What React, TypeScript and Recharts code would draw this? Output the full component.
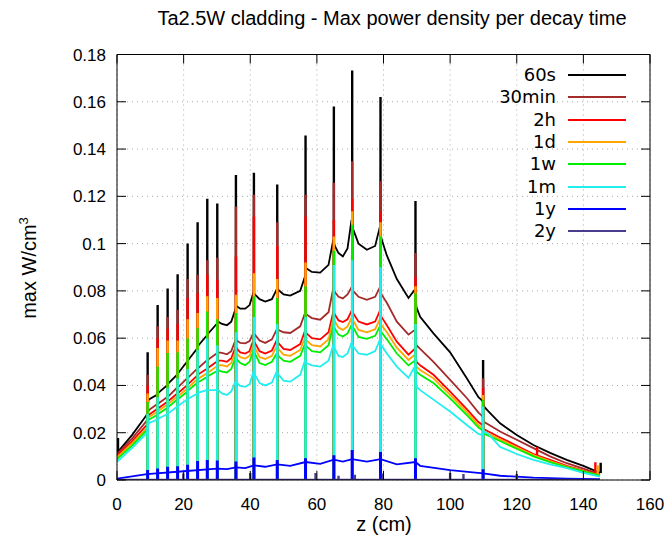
import { LineChart, Line, XAxis, YAxis, CartesianGrid } from 'recharts';

// z positions (cm) where the smooth part of each curve is sampled
const Z_BASE = [
  0, 4.5, 8.9, 9.5, 12.0, 12.5, 15.0, 15.5, 18.0, 18.5, 21.0, 21.5, 24.0, 24.5, 26.9, 27.4, 29.9,
  30.4, 31.5, 33, 34.3, 35.5, 36, 37, 38.5, 39.8, 40.9, 41.4, 42.8, 44.5, 46.5, 47.9,
  48.4, 50, 52, 55, 56.4, 56.9, 58.5, 61, 63.5, 64.9, 65.4, 66.5, 67.8, 69.2, 70.4,
  70.9, 72.5, 75, 77.5, 78.9, 79.4, 81, 84, 87.5, 89.4, 89.9, 91, 95, 100, 105, 108.5, 109.7,
  110.2, 111.5, 115, 120, 125, 130, 135, 140, 145,
];

const BASE_60S = [
  0.0115, 0.019, 0.0275, 0.034, 0.036, 0.037, 0.04, 0.041, 0.0445, 0.0455, 0.05, 0.051, 0.0555, 0.057, 0.061, 0.062, 0.066,
  0.067, 0.066, 0.0655, 0.067, 0.072, 0.0735, 0.0725, 0.0725, 0.074, 0.079, 0.0785, 0.0765, 0.0755, 0.0765, 0.0805,
  0.0805, 0.0785, 0.078, 0.08, 0.086, 0.0895, 0.088, 0.0877, 0.091, 0.1015, 0.099, 0.096, 0.0946, 0.098, 0.11,
  0.106, 0.1, 0.0974, 0.099, 0.107, 0.102, 0.095, 0.085, 0.077, 0.0805, 0.073, 0.069, 0.062, 0.054, 0.043, 0.035, 0.0335,
  0.031, 0.029, 0.024, 0.019, 0.0148, 0.0115, 0.0085, 0.006, 0.003,
];

const BASE_30MIN = [
  0.011, 0.0175, 0.025, 0.0295, 0.032, 0.0325, 0.035, 0.0355, 0.039, 0.0395, 0.043, 0.0435, 0.047, 0.0475, 0.0505, 0.051, 0.0535,
  0.054, 0.0538, 0.0532, 0.0545, 0.059, 0.059, 0.058, 0.0578, 0.0588, 0.062, 0.0615, 0.059, 0.058, 0.0595, 0.0635,
  0.0635, 0.0625, 0.0622, 0.065, 0.0705, 0.07, 0.0685, 0.0678, 0.071, 0.081, 0.0795, 0.0775, 0.0768, 0.0785, 0.0815,
  0.08, 0.0775, 0.0762, 0.0775, 0.0815, 0.0785, 0.075, 0.067, 0.0615, 0.0635, 0.057, 0.0555, 0.05, 0.0424, 0.0347, 0.0285, 0.027,
  0.0245, 0.0235, 0.0205, 0.017, 0.0135, 0.01, 0.0071, 0.0048, 0.0025,
];

const BASE_2H = [
  0.0103, 0.0163, 0.0232, 0.0275, 0.03, 0.0305, 0.033, 0.0335, 0.0365, 0.037, 0.04, 0.0408, 0.044, 0.0448, 0.047, 0.0475, 0.05,
  0.0505, 0.0505, 0.05, 0.0515, 0.056, 0.0555, 0.054, 0.0535, 0.0545, 0.059, 0.058, 0.0545, 0.0535, 0.0548, 0.059,
  0.058, 0.0555, 0.055, 0.0575, 0.063, 0.062, 0.06, 0.0595, 0.0625, 0.071, 0.07, 0.0675, 0.0668, 0.068, 0.0715,
  0.0705, 0.067, 0.0658, 0.067, 0.0715, 0.069, 0.0655, 0.0585, 0.053, 0.0555, 0.05, 0.0485, 0.0445, 0.0374, 0.03, 0.0245, 0.0233,
  0.0215, 0.0205, 0.018, 0.0145, 0.011, 0.0085, 0.006, 0.004, 0.0022,
];

const BASE_1D = [
  0.0096, 0.0155, 0.0218, 0.0265, 0.0288, 0.0293, 0.0318, 0.0323, 0.0352, 0.0357, 0.0385, 0.0393, 0.0425, 0.043, 0.045, 0.0455, 0.048,
  0.0485, 0.0486, 0.048, 0.0495, 0.054, 0.0535, 0.052, 0.0514, 0.0525, 0.057, 0.056, 0.052, 0.0512, 0.0525, 0.0565,
  0.0555, 0.053, 0.0525, 0.055, 0.06, 0.059, 0.057, 0.0565, 0.0595, 0.068, 0.067, 0.0645, 0.0635, 0.065, 0.0685,
  0.0675, 0.0635, 0.0625, 0.0638, 0.068, 0.0655, 0.0625, 0.056, 0.0508, 0.053, 0.048, 0.0465, 0.043, 0.036, 0.0288, 0.0232, 0.022,
  0.0205, 0.0195, 0.0172, 0.0138, 0.0105, 0.008, 0.0057, 0.0038, 0.002,
];

const BASE_1W = [
  0.0088, 0.0145, 0.021, 0.0255, 0.0275, 0.028, 0.0305, 0.031, 0.034, 0.0345, 0.0372, 0.038, 0.041, 0.0415, 0.0435, 0.044, 0.046,
  0.0465, 0.0458, 0.0455, 0.047, 0.0515, 0.051, 0.0495, 0.0486, 0.05, 0.0545, 0.0535, 0.0495, 0.0486, 0.05, 0.0535,
  0.0525, 0.0505, 0.05, 0.0525, 0.0575, 0.0565, 0.0545, 0.054, 0.057, 0.065, 0.064, 0.0615, 0.0607, 0.062, 0.0655,
  0.0645, 0.0605, 0.0597, 0.061, 0.065, 0.0625, 0.0595, 0.0535, 0.0485, 0.0505, 0.0458, 0.0445, 0.041, 0.0345, 0.0275, 0.0222, 0.021,
  0.0195, 0.0187, 0.0165, 0.0132, 0.01, 0.0076, 0.0054, 0.0036, 0.0018,
];

const BASE_1M = [
  0.0077, 0.0135, 0.0198, 0.024, 0.0255, 0.026, 0.0278, 0.0283, 0.031, 0.0315, 0.034, 0.0345, 0.0365, 0.037, 0.038, 0.038, 0.038,
  0.038, 0.0366, 0.036, 0.0375, 0.0415, 0.041, 0.0398, 0.0394, 0.0405, 0.0455, 0.0445, 0.041, 0.04, 0.0412, 0.0458,
  0.0448, 0.042, 0.0416, 0.0445, 0.0505, 0.0495, 0.0485, 0.048, 0.0505, 0.057, 0.0555, 0.0525, 0.052, 0.0535, 0.058,
  0.0565, 0.0535, 0.053, 0.0545, 0.0593, 0.057, 0.0535, 0.048, 0.0432, 0.048, 0.0395, 0.038, 0.034, 0.029, 0.0233, 0.0195, 0.019,
  0.0205, 0.0195, 0.014, 0.011, 0.0085, 0.0066, 0.005, 0.003, 0.0014,
];

// grid / spacer positions (cm) where every curve peaks
const Z_SPIKE = [9.2, 12.2, 15.2, 18.2, 21.2, 24.2, 27.1, 30.1, 35.7, 41.1, 48.1, 56.6, 65.1, 70.6, 79.1, 89.6, 109.9];

const TOP_60S = [0.054, 0.074, 0.081, 0.087, 0.1, 0.109, 0.119, 0.117, 0.129, 0.13, 0.125, 0.1457, 0.158, 0.1732, 0.162, 0.118, 0.0508];
const TOP_30MIN = [0.0445, 0.065, 0.069, 0.072, 0.085, 0.0868, 0.093, 0.094, 0.1157, 0.1207, 0.109, 0.1207, 0.1257, 0.1348, 0.1264, 0.096, 0.043];
const TOP_2H = [0.04, 0.06, 0.064, 0.066, 0.077, 0.079, 0.0868, 0.0847, 0.0946, 0.1115, 0.099, 0.1115, 0.11, 0.119, 0.1137, 0.086, 0.039];
const TOP_1D = [0.0366, 0.0558, 0.059, 0.059, 0.068, 0.0706, 0.0777, 0.077, 0.0784, 0.0875, 0.085, 0.092, 0.103, 0.1137, 0.109, 0.082, 0.036];
const TOP_1W = [0.033, 0.048, 0.0537, 0.054, 0.06, 0.0643, 0.0713, 0.068, 0.0706, 0.0776, 0.077, 0.082, 0.097, 0.108, 0.103, 0.079, 0.034];
const TOP_1M = [0.028, 0.035, 0.039, 0.043, 0.047, 0.055, 0.06, 0.057, 0.0625, 0.069, 0.066, 0.069, 0.091, 0.093, 0.09, 0.066, 0.031];
const TOP_1Y = [0.0042, 0.0049, 0.0056, 0.0058, 0.0065, 0.008, 0.0085, 0.0082, 0.0078, 0.0095, 0.0085, 0.0092, 0.0105, 0.0127, 0.0118, 0.0092, 0.0045];

// 1y curve sampled on its own, coarser grid
const Z_1Y = [0, 9, 20, 30, 33, 35.7, 38.5, 41.1, 44.5, 48.1, 52, 56.6, 61, 65.1, 67.8, 70.6, 75, 79.1, 84, 89.6, 91, 100, 109.9, 115, 125, 135, 145];
const BASE_1Y = [
  0.0006, 0.0025, 0.0037, 0.0048, 0.0046, 0.0053, 0.005, 0.0062, 0.0056, 0.0066, 0.006, 0.0076, 0.0068, 0.0086,
  0.0078, 0.0088, 0.0078, 0.0088, 0.0066, 0.0076, 0.006, 0.0042, 0.0028, 0.0018, 0.001, 0.0006, 0.0004,
];

// 2y stays near zero with a few small peaks
const Z_2Y = [0, 145];
const BASE_2Y = [0.0002, 0.0001];
const Z_2Y_SPIKE = [19.9, 40.0, 59.6, 66.5, 71.4, 79.8, 100, 104, 120];
const TOP_2Y = [0.0028, 0.003, 0.003, 0.0018, 0.0022, 0.0028, 0.003, 0.0025, 0.0025];

// odd isolated peaks: [z, from, to]
const EXTRA_60S = [[0.3, 0.0115, 0.0178], [145.2, 0.003, 0.0073]];
const EXTRA_2H = [[126.1, 0.0099, 0.014], [143.6, 0.0025, 0.0075]];
const EXTRA_1D = [[144.3, 0.002, 0.0062]];

const X_TICKS = [0, 20, 40, 60, 80, 100, 120, 140, 160];
const Y_TICKS = [0, 0.02, 0.04, 0.06, 0.08, 0.1, 0.12, 0.14, 0.16, 0.18];

type Pt = { z: number; v: number | null };

const toRows = (zs: number[], vs: number[]): Pt[] => zs.map((z, i) => ({ z, v: vs[i] }));

// each peak is a vertical stroke, separated by a gap
const toSpikes = (zs: number[], tops: number[], extra: number[][] = []): Pt[] => [
  ...zs.flatMap((z, i) => [{ z, v: 0 }, { z, v: tops[i] }, { z, v: null }]),
  ...extra.flatMap(([z, lo, hi]) => [{ z, v: lo }, { z, v: hi }, { z, v: null }]),
];

const SERIES = [
  { name: '60s', color: '#000000', base: toRows(Z_BASE, BASE_60S), spikes: toSpikes(Z_SPIKE, TOP_60S, EXTRA_60S) },
  { name: '30min', color: '#a52a2a', base: toRows(Z_BASE, BASE_30MIN), spikes: toSpikes(Z_SPIKE, TOP_30MIN) },
  { name: '2h', color: '#ff0000', base: toRows(Z_BASE, BASE_2H), spikes: toSpikes(Z_SPIKE, TOP_2H, EXTRA_2H) },
  { name: '1d', color: '#ffa500', base: toRows(Z_BASE, BASE_1D), spikes: toSpikes(Z_SPIKE, TOP_1D, EXTRA_1D) },
  { name: '1w', color: '#00ee00', base: toRows(Z_BASE, BASE_1W), spikes: toSpikes(Z_SPIKE, TOP_1W) },
  { name: '1m', color: '#22eeee', base: toRows(Z_BASE, BASE_1M), spikes: toSpikes(Z_SPIKE, TOP_1M) },
  { name: '1y', color: '#0000ff', base: toRows(Z_1Y, BASE_1Y), spikes: toSpikes(Z_SPIKE, TOP_1Y) },
  { name: '2y', color: '#483d8b', base: toRows(Z_2Y, BASE_2Y), spikes: toSpikes(Z_2Y_SPIKE, TOP_2Y) },
];

const FONT = '"Liberation Sans", Arial, sans-serif';
const TICK_LEN = 9;

const fmtY = (v: number) => String(Number(v.toFixed(2)));

// gnuplot style: ticks point into the plot
const BottomTick = (p: any) => (
  <g>
    <line x1={p.x} y1={p.y} x2={p.x} y2={p.y - TICK_LEN} stroke="#000" />
    <text x={p.x} y={p.y + 30} textAnchor="middle" fontSize={17} fontFamily={FONT} fill="#000">
      {p.payload.value}
    </text>
  </g>
);

const TopTick = (p: any) => <line x1={p.x} y1={p.y} x2={p.x} y2={p.y + TICK_LEN} stroke="#000" />;

const LeftTick = (p: any) => (
  <g>
    <line x1={p.x} y1={p.y} x2={p.x + TICK_LEN} y2={p.y} stroke="#000" />
    <text x={p.x - 11} y={p.y + 6} textAnchor="end" fontSize={17} fontFamily={FONT} fill="#000">
      {fmtY(p.payload.value)}
    </text>
  </g>
);

const RightTick = (p: any) => <line x1={p.x} y1={p.y} x2={p.x - TICK_LEN} y2={p.y} stroke="#000" />;

export default function App() {
  return (
    <div style={{ position: 'absolute', left: 0, top: 0, width: 666, height: 550, background: '#fff', fontFamily: FONT }}>
      <div
        style={{
          position: 'absolute',
          left: 392,
          top: 8,
          transform: 'translateX(-50%)',
          whiteSpace: 'nowrap',
          fontSize: 20,
          lineHeight: '20px',
        }}
      >
        Ta2.5W cladding - Max power density per decay time
      </div>

      <LineChart width={666} height={550} margin={{ top: 53.5, right: 15, bottom: 40, left: 57 }}>
        <CartesianGrid xAxisId="b" yAxisId="l" stroke="#a8a8a8" strokeDasharray="1 4" />
        <XAxis
          xAxisId="b"
          dataKey="z"
          type="number"
          domain={[0, 160]}
          ticks={X_TICKS}
          interval={0}
          allowDataOverflow
          height={30}
          tickLine={false}
          tickSize={0}
          tickMargin={0}
          axisLine={{ stroke: '#000' }}
          tick={BottomTick}
        />
        <XAxis
          xAxisId="t"
          orientation="top"
          dataKey="z"
          type="number"
          domain={[0, 160]}
          ticks={X_TICKS}
          interval={0}
          allowDataOverflow
          height={1}
          tickLine={false}
          tickSize={0}
          tickMargin={0}
          axisLine={{ stroke: '#000' }}
          tick={TopTick}
        />
        <YAxis
          yAxisId="l"
          type="number"
          domain={[0, 0.18]}
          ticks={Y_TICKS}
          interval={0}
          allowDataOverflow
          width={60}
          tickLine={false}
          tickSize={0}
          tickMargin={0}
          axisLine={{ stroke: '#000' }}
          tick={LeftTick}
        />
        <YAxis
          yAxisId="r"
          orientation="right"
          type="number"
          domain={[0, 0.18]}
          ticks={Y_TICKS}
          interval={0}
          allowDataOverflow
          width={1}
          tickLine={false}
          tickSize={0}
          tickMargin={0}
          axisLine={{ stroke: '#000' }}
          tick={RightTick}
        />
        {SERIES.flatMap((s) => [
          <Line
            key={`${s.name}-base`}
            xAxisId="b"
            yAxisId="l"
            data={s.base}
            dataKey="v"
            name={s.name}
            type="linear"
            stroke={s.color}
            strokeWidth={1.8}
            dot={false}
            activeDot={false}
            isAnimationActive={false}
          />,
          <Line
            key={`${s.name}-spikes`}
            xAxisId="b"
            yAxisId="l"
            data={s.spikes}
            dataKey="v"
            name={`${s.name} peaks`}
            type="linear"
            stroke={s.color}
            strokeWidth={s.name === '1y' ? 3 : 2.4}
            dot={false}
            activeDot={false}
            legendType="none"
            isAnimationActive={false}
          />,
        ])}
      </LineChart>

      {/* legend, top right inside the frame */}
      <div style={{ position: 'absolute', left: 436, top: 64, fontFamily: '"DejaVu Sans", sans-serif', fontSize: 18 }}>
        {SERIES.map((s) => (
          <div key={s.name} style={{ display: 'flex', alignItems: 'center', height: 22.3 }}>
            <span style={{ width: 120, textAlign: 'right', lineHeight: '22px' }}>{s.name}</span>
            <span style={{ width: 58, height: 2, marginLeft: 12, background: s.color }} />
          </div>
        ))}
      </div>

      <div
        style={{
          position: 'absolute',
          left: 384,
          top: 514,
          transform: 'translateX(-50%)',
          whiteSpace: 'nowrap',
          fontSize: 20,
          lineHeight: '20px',
        }}
      >
        z (cm)
      </div>

      <div
        style={{
          position: 'absolute',
          left: 29,
          top: 268,
          transform: 'translate(-50%, -50%) rotate(-90deg)',
          whiteSpace: 'nowrap',
          fontSize: 20,
          lineHeight: '20px',
        }}
      >
        max W/cm<sup style={{ fontSize: 13, lineHeight: 0 }}>3</sup>
      </div>
    </div>
  );
}
